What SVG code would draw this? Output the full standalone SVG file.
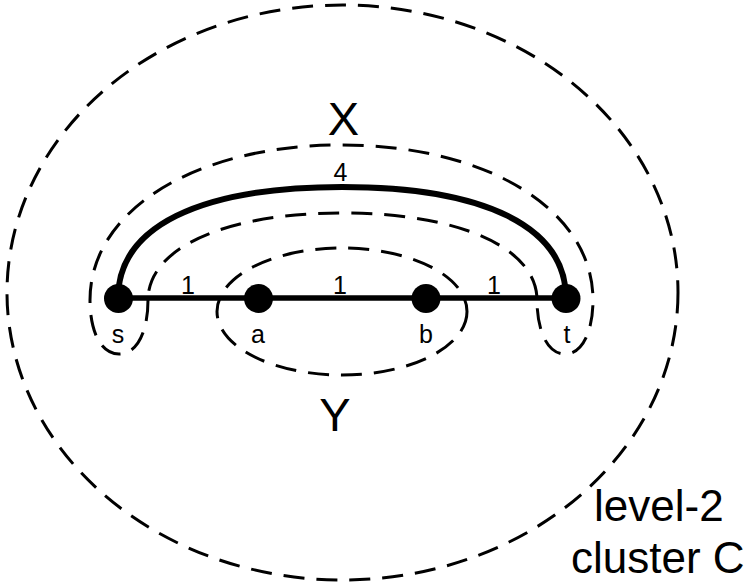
<svg xmlns="http://www.w3.org/2000/svg" width="754" height="585" viewBox="0 0 754 585">
<style>
  .dash { fill: none; stroke: #000; stroke-width: 3; stroke-dasharray: 21 12; }
  .edge { fill: none; stroke: #000; }
  .node { fill: #000; }
  text { font-family: "Liberation Sans", Arial, sans-serif; fill: #000; }
  .lbl { font-size: 25px; text-anchor: middle; }
  .big { font-size: 47px; text-anchor: middle; }
  .cap { font-size: 44px; }
</style>
<rect width="754" height="585" fill="#fff"/>
<g id="cluster-C">
  <ellipse class="dash" cx="342.5" cy="292.5" rx="335.5" ry="287.5"/>
  <text class="cap" x="594" y="521">level-2</text>
  <text class="cap" x="571" y="573">cluster C</text>
</g>
<g id="cluster-X">
  <path class="dash" d="M148,300 C148,330 138,354 119,354 C100,354 90,330 90,300 C90,210.1 195.6,145 341.5,145 C487.4,145 593,210.1 593,300 C593,330 583,354 565,354 C547,354 537,330 537,300 C537,247.8 459.2,213 342.5,213 C225.8,213 148,247.8 148,300 Z"/>
  <text class="big" x="343.5" y="135">X</text>
</g>
<g id="cluster-Y">
  <ellipse class="dash" cx="342" cy="311.5" rx="125" ry="63.5"/>
  <text class="big" x="335" y="431">Y</text>
</g>
<g id="connectors">
  <path class="edge" stroke-width="6" d="M118,298.5 C118,227 198.6,187 342,187 C485.4,187 566,227 566,298.5"/>
  <line class="edge" stroke-width="5.5" x1="118" y1="298" x2="566" y2="298"/>
  <text class="lbl" x="340.5" y="181">4</text>
  <text class="lbl" x="188" y="294">1</text>
  <text class="lbl" x="340" y="294">1</text>
  <text class="lbl" x="494" y="294">1</text>
</g>
<g id="node-s">
  <circle class="node" cx="118.5" cy="298.5" r="14.5"/>
  <text class="lbl" x="118" y="343">s</text>
</g>
<g id="node-a">
  <circle class="node" cx="258.5" cy="298.5" r="14.5"/>
  <text class="lbl" x="258" y="343">a</text>
</g>
<g id="node-b">
  <circle class="node" cx="426" cy="298.5" r="14.5"/>
  <text class="lbl" x="426" y="343">b</text>
</g>
<g id="node-t">
  <circle class="node" cx="566" cy="298.5" r="14.5"/>
  <text class="lbl" x="567" y="343">t</text>
</g>
</svg>
